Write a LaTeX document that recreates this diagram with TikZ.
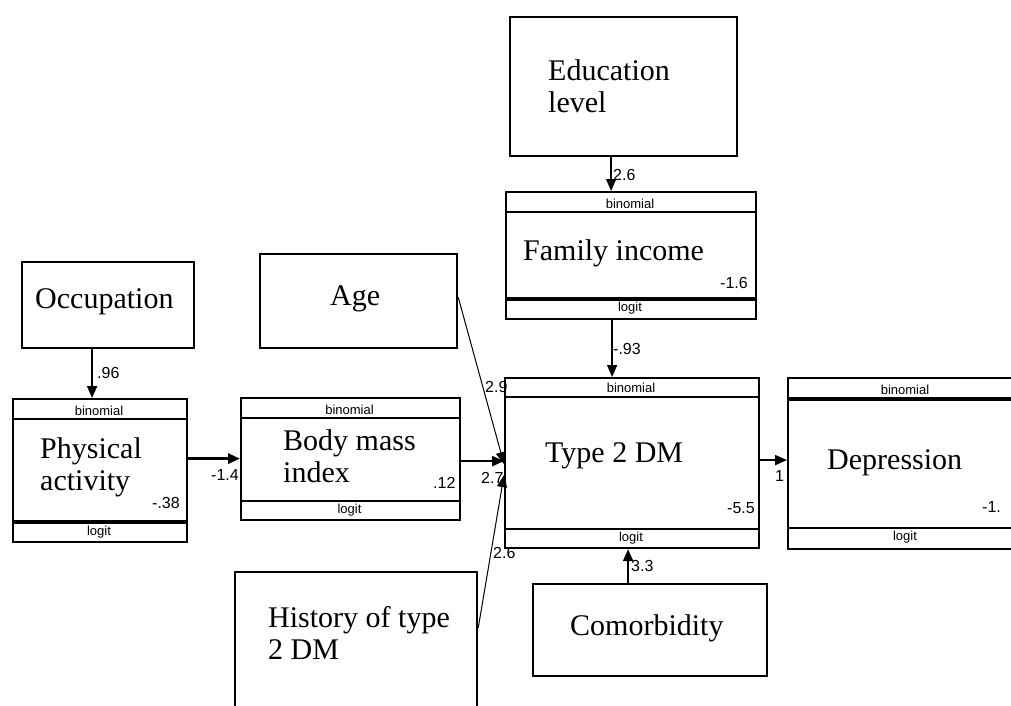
\documentclass[tikz,border=0pt]{standalone}
\usepackage{fontspec}
\setmainfont{Liberation Serif}
\newfontfamily\lblsans{Liberation Sans}
\usetikzlibrary{arrows.meta}
\begin{document}
\begin{tikzpicture}[x=1pt,y=-1pt,
  box/.style={draw,line width=2.2pt,anchor=north west,inner sep=0pt},
  title/.style={anchor=base west,inner sep=0pt,align=left,font=\fontsize{30}{32}\selectfont},
  strip/.style={inner sep=0pt,font=\lblsans\fontsize{13}{13}\selectfont},
  coef/.style={anchor=west,inner sep=0pt,font=\lblsans\fontsize{16}{16}\selectfont},
  sepn/.style={line width=2.4pt},
  sept/.style={line width=4pt},
  arr/.style={-{Triangle[length=12pt,width=10pt]}},
]
\useasboundingbox (0,0) rectangle (1011,706);

% ---------- boxes ----------
\node[box,minimum width=227pt,minimum height=139pt] (edu) at (509,16) {};
\node[title] (edut) at (548,113) {Education\\level};

\node[box,minimum width=250pt,minimum height=127pt] (fi) at (505,191) {};
\node[title] (fit) at (523,260) {Family income};

\node[box,minimum width=172pt,minimum height=86pt] (occ) at (21,261) {};
\node[title] (occt) at (35,308) {Occupation};

\node[box,minimum width=197pt,minimum height=94pt] (age) at (259,253) {};
\node[title] (aget) at (330,305) {Age};

\node[box,minimum width=174pt,minimum height=143pt] (pa) at (12,398) {};
\node[title] (pat) at (40,490) {Physical\\activity};

\node[box,minimum width=219pt,minimum height=122pt] (bmi) at (240,397) {};
\node[title] (bmit) at (283,482) {Body mass\\index};

\node[box,minimum width=254pt,minimum height=170pt] (t2dm) at (504,377) {};
\node[title] (t2dmt) at (545,462) {Type 2 DM};

\node[box,minimum width=236pt,minimum height=171pt] (dep) at (787,377) {};
\node[title] (dept) at (827,469) {Depression};

\node[box,minimum width=234pt,minimum height=92pt] (com) at (532,583) {};
\node[title] (comt) at (570,635) {Comorbidity};

\node[box,minimum width=242pt,minimum height=150pt] (his) at (234,571) {};
\node[title] (hist) at (268,659) {History of type\\2 DM};

% ---------- strips ----------
\draw[sepn] ([yshift=-21pt]fi.north west) -- ([yshift=-21pt]fi.north east);
\draw[sept] ([yshift=21pt]fi.south west) -- ([yshift=21pt]fi.south east);
\node[strip] (fib) at (630,204) {binomial};
\node[strip] (fil) at (630,308) {logit};

\draw[sepn] ([yshift=-21pt]pa.north west) -- ([yshift=-21pt]pa.north east);
\draw[sept] ([yshift=21pt]pa.south west) -- ([yshift=21pt]pa.south east);
\node[strip] (pab) at (99,411) {binomial};
\node[strip] (pal) at (99,532) {logit};

\draw[sepn] ([yshift=-21pt]bmi.north west) -- ([yshift=-21pt]bmi.north east);
\draw[sepn] ([yshift=20pt]bmi.south west) -- ([yshift=20pt]bmi.south east);
\node[strip] (bmib) at (349.5,410) {binomial};
\node[strip] (bmil) at (349.5,510) {logit};

\draw[sepn] ([yshift=-20pt]t2dm.north west) -- ([yshift=-20pt]t2dm.north east);
\draw[sepn] ([yshift=20pt]t2dm.south west) -- ([yshift=20pt]t2dm.south east);
\node[strip] (t2dmb) at (631,388) {binomial};
\node[strip] (t2dml) at (631,538) {logit};

\draw[sept] ([yshift=-22pt]dep.north west) -- ([yshift=-22pt]dep.north east);
\draw[sepn] ([yshift=22pt]dep.south west) -- ([yshift=22pt]dep.south east);
\node[strip] (depb) at (905,390) {binomial};
\node[strip] (depl) at (905,537) {logit};

% ---------- coefficients ----------
\node[coef] (c1) at (720,283) {-1.6};
\node[coef] (c2) at (152,503) {-.38};
\node[coef] (c3) at (433,483) {.12};
\node[coef] (c4) at (727,508) {-5.5};
\node[coef] (c5) at (982,507) {-1.};
\node[coef] (c6) at (613,175) {2.6};
\node[coef] (c7) at (613,349) {-.93};
\node[coef] (c8) at (97,373) {.96};
\node[coef] (c9) at (211,475) {-1.4};
\node[coef] (c10) at (485,387) {2.9};
\node[coef] (c11) at (481,478) {2.7};
\node[coef] (c12) at (493,553) {2.6};
\node[coef] (c13) at (631,566) {3.3};
\node[coef] (c14) at (775,476) {1};

% ---------- connectors ----------
\draw[arr,line width=1.5pt] ([xshift=-12.5pt]edu.south) -- ([xshift=-12.5pt]edu.south |- fi.north);
\draw[arr,line width=1.5pt] ([xshift=-19pt]fi.south) -- ([xshift=-19pt]fi.south |- t2dm.north);
\draw[arr,line width=2pt] ([xshift=-16pt]occ.south) -- ([xshift=-16pt]occ.south |- pa.north);
\draw[arr,line width=3pt] ([yshift=12pt]pa.east) -- ([yshift=12pt]pa.east -| bmi.west);
\draw[arr,line width=1pt] ([yshift=4pt]age.east) -- ([yshift=-1pt]t2dm.west);
\draw[arr,line width=2.5pt] ([yshift=-2pt]bmi.east) -- ([yshift=-2pt]bmi.east -| t2dm.west);
\draw[arr,line width=1pt] ([yshift=19pt]his.east) -- ([yshift=-12pt]t2dm.west);
\draw[arr,line width=2pt] ([xshift=-22pt]com.north) -- ([xshift=-22pt]com.north |- t2dm.south);
\draw[arr,line width=2pt] ([yshift=3pt]t2dm.east) -- ([yshift=3pt]t2dm.east -| dep.west);
\end{tikzpicture}
\end{document}
